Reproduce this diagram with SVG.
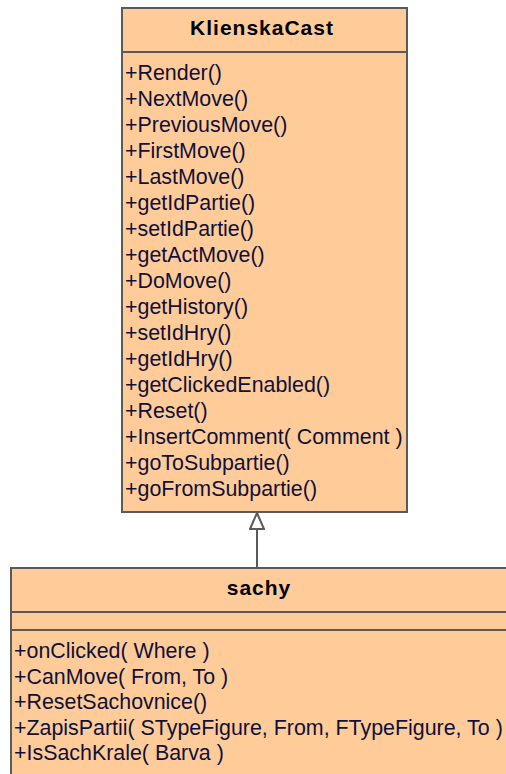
<svg xmlns="http://www.w3.org/2000/svg" width="506" height="774" viewBox="0 0 506 774">
<style>
.box{fill:#FFCC99;stroke:#5a5a5a;stroke-width:2}
.div{stroke:#5a5a5a;stroke-width:2}
.title{font-family:"Liberation Sans",Arial,sans-serif;font-weight:bold;font-size:21px;fill:#000;letter-spacing:1px;text-anchor:middle}
.m{font-family:"Liberation Sans",Arial,sans-serif;font-size:21.4px;fill:#101038}
.conn{stroke:#5a5a5a;stroke-width:2;fill:none}
</style>
<defs>
<marker id="inh" viewBox="0 0 18 16" refX="17" refY="8" markerWidth="18" markerHeight="16" markerUnits="userSpaceOnUse" orient="auto">
<path d="M1,1 L17,8 L1,15 Z" fill="#fff" stroke="#5a5a5a" stroke-width="2"/>
</marker>
</defs>
<g id="connectors">
<line class="conn" x1="257" y1="568" x2="257" y2="513" marker-end="url(#inh)"/>
</g>
<g id="KlienskaCast">
<rect class="box" x="122" y="8" width="285" height="504"/>
<line class="div" x1="122" y1="52" x2="407" y2="52"/>
<text class="title" x="262" y="35">KlienskaCast</text>
<text class="m" x="125" y="80">+Render()</text>
<text class="m" x="125" y="106">+NextMove()</text>
<text class="m" x="125" y="132">+PreviousMove()</text>
<text class="m" x="125" y="158">+FirstMove()</text>
<text class="m" x="125" y="184">+LastMove()</text>
<text class="m" x="125" y="210">+getIdPartie()</text>
<text class="m" x="125" y="236">+setIdPartie()</text>
<text class="m" x="125" y="262">+getActMove()</text>
<text class="m" x="125" y="288">+DoMove()</text>
<text class="m" x="125" y="314">+getHistory()</text>
<text class="m" x="125" y="340">+setIdHry()</text>
<text class="m" x="125" y="366">+getIdHry()</text>
<text class="m" x="125" y="392">+getClickedEnabled()</text>
<text class="m" x="125" y="418">+Reset()</text>
<text class="m" x="125" y="444">+InsertComment( Comment )</text>
<text class="m" x="125" y="470">+goToSubpartie()</text>
<text class="m" x="125" y="496">+goFromSubpartie()</text>
</g>
<g id="sachy">
<rect class="box" x="11" y="568" width="497" height="220"/>
<line class="div" x1="11" y1="612" x2="508" y2="612"/>
<line class="div" x1="11" y1="630" x2="508" y2="630"/>
<text class="title" x="259" y="595">sachy</text>
<text class="m" x="14" y="658">+onClicked( Where )</text>
<text class="m" x="14" y="684">+CanMove( From, To )</text>
<text class="m" x="14" y="709">+ResetSachovnice()</text>
<text class="m" x="14" y="735">+ZapisPartii( STypeFigure, From, FTypeFigure, To )</text>
<text class="m" x="14" y="760">+IsSachKrale( Barva )</text>
</g>
</svg>
